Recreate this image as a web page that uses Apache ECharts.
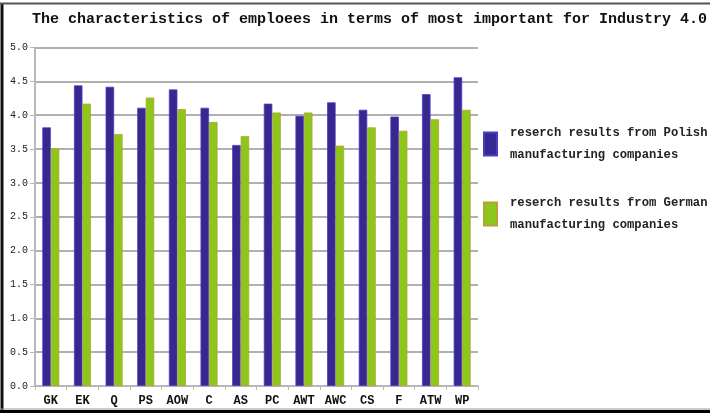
<!DOCTYPE html>
<html>
<head>
<meta charset="utf-8">
<script src="https://cdn.jsdelivr.net/npm/echarts@6/dist/echarts.min.js"></script>
<style>html,body{margin:0;padding:0;background:#fff;}#c{width:710px;height:413px;}</style>
</head>
<body>
<div id="c"></div>
<script>
var categories = ['GK','EK','Q','PS','AOW','C','AS','PC','AWT','AWC','CS','F','ATW','WP'];
var polish = [3.82,4.44,4.42,4.11,4.38,4.11,3.56,4.17,3.99,4.19,4.08,3.98,4.31,4.56];
var german = [3.51,4.17,3.72,4.26,4.09,3.90,3.69,4.04,4.04,3.55,3.82,3.77,3.94,4.08];
var seriesNames = ['reserch results from Polish\nmanufacturing companies','reserch results from German\nmanufacturing companies'];
var titleText = 'The characteristics of emploees in terms of most important for Industry 4.0';

var chart = echarts.init(document.getElementById('c'), null, {renderer:'canvas'});
var mono = '"Liberation Mono", "DejaVu Sans Mono", monospace';
chart.setOption({
  animation: false,
  backgroundColor: '#fff',
  title: {
    text: titleText, left: 27, top: 7,
    textStyle: {fontFamily: mono, fontWeight: 'bold', fontSize: 15, color: '#111'}
  },
  grid: {left: 35, right: 232, top: 47.5, bottom: 27},
  legend: {
    orient: 'vertical', left: 478, top: 117,
    itemWidth: 13, itemHeight: 23, itemGap: 26,
    icon: 'rect',
    textStyle: {fontFamily: mono, fontWeight: 'bold', fontSize: 12.2, color: '#222', lineHeight: 22, padding: [0,0,0,8]},
    data: seriesNames
  },
  xAxis: {
    type: 'category', data: categories,
    axisLine: {lineStyle: {color: '#b8b8b8', width: 2}},
    axisTick: {show: true, length: 4, lineStyle: {color: '#b8b8b8'}},
    axisLabel: {fontFamily: mono, fontWeight: 'bold', fontSize: 12, color: '#111', margin: 9}
  },
  yAxis: {
    type: 'value', min: 0, max: 5, interval: 0.5,
    axisLine: {show: true, lineStyle: {color: '#b8b8b8', width: 2}},
    axisTick: {show: true, length: 5, lineStyle: {color: '#b8b8b8'}},
    splitLine: {lineStyle: {color: '#b0b0b0', width: 2}},
    axisLabel: {fontFamily: mono, fontSize: 10, color: '#222', margin: 7,
      formatter: function(v){ return v.toFixed(1); }}
  },
  series: [
    {name: seriesNames[0], type: 'bar', data: polish, barWidth: 8.5, barGap: '0%',
     itemStyle: {color: '#36288f', borderColor: '#4a3cc4', borderWidth: 0.8}},
    {name: seriesNames[1], type: 'bar', data: german, barWidth: 8.5,
     itemStyle: {color: '#8cc81a', borderColor: '#b8a038', borderWidth: 0.8}}
  ],
  graphic: [
    {type: 'line', shape: {x1: 2, y1: 3, x2: 2, y2: 413}, style: {stroke: '#111', lineWidth: 3}},
    {type: 'line', shape: {x1: 0, y1: 3.5, x2: 710, y2: 3.5}, style: {stroke: '#555', lineWidth: 2}},
    {type: 'line', shape: {x1: 0, y1: 409, x2: 710, y2: 409}, style: {stroke: '#999', lineWidth: 1}},
    {type: 'line', shape: {x1: 0, y1: 411.5, x2: 710, y2: 411.5}, style: {stroke: '#000', lineWidth: 3}}
  ]
});
</script>
</body>
</html>
